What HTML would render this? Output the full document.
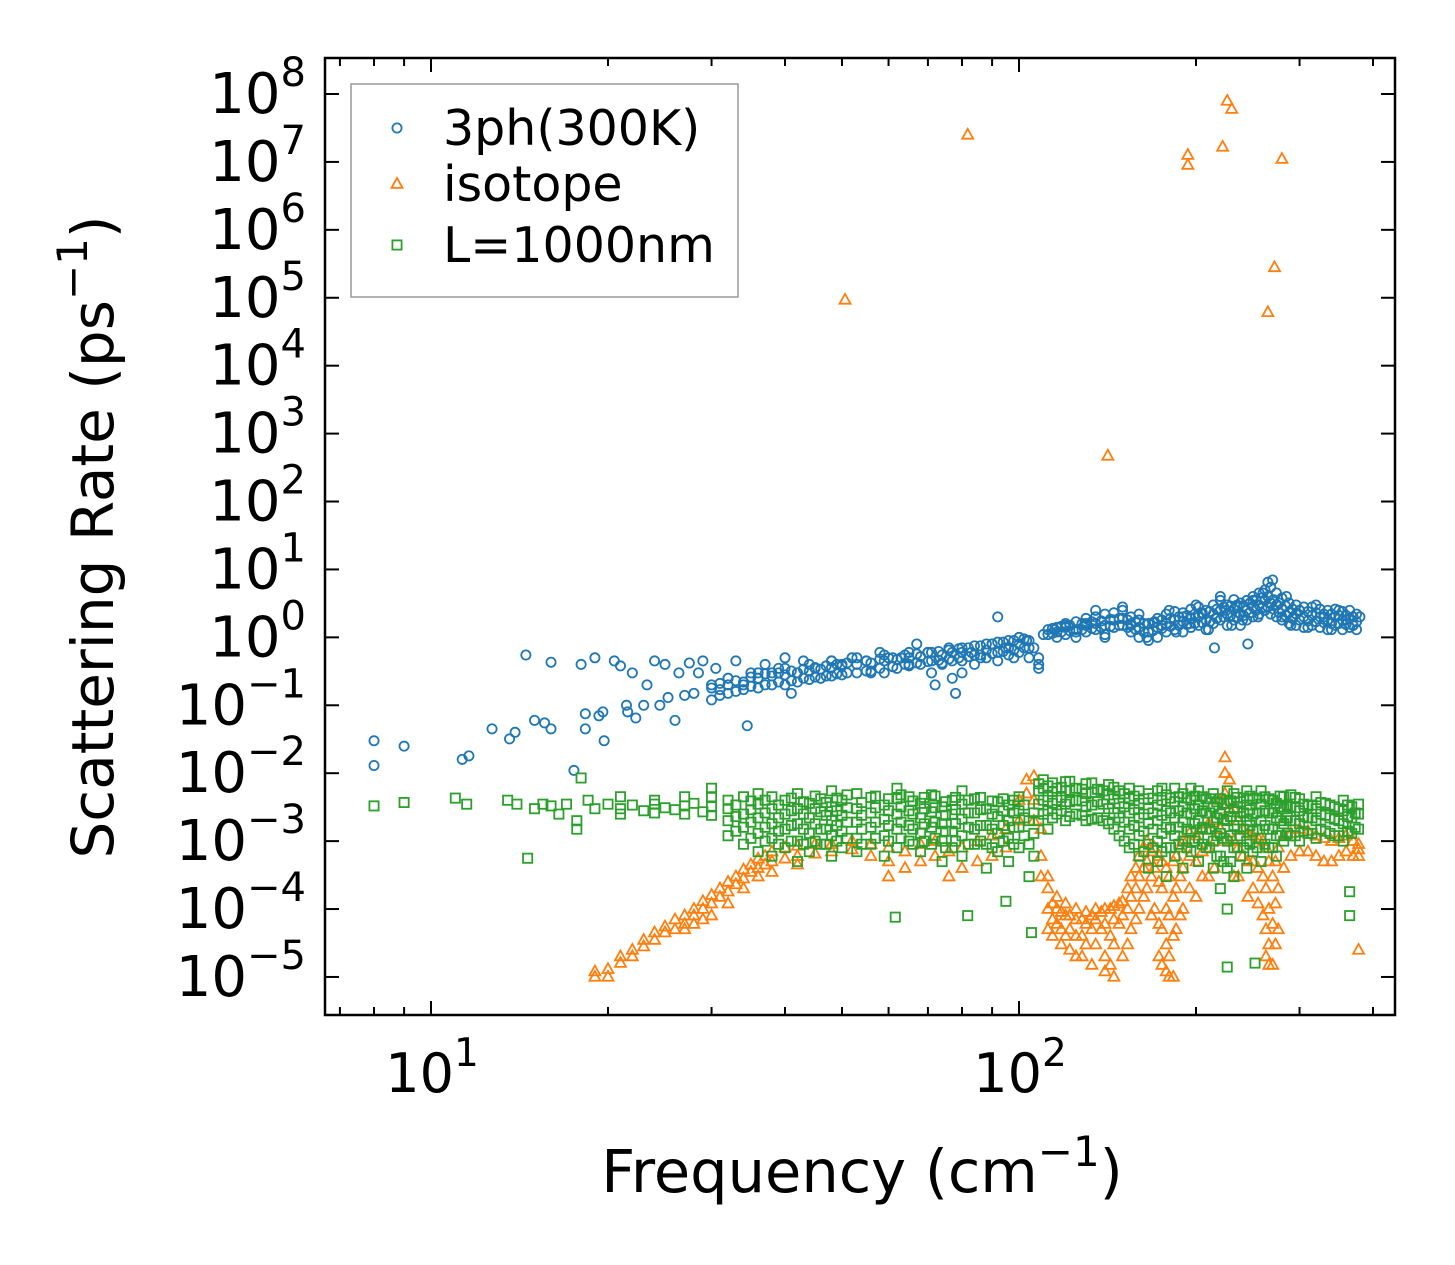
<!DOCTYPE html>
<html><head><meta charset="utf-8"><style>
html,body{margin:0;padding:0;background:#fff}
svg{display:block}
text{font-family:"DejaVu Sans","Liberation Sans",sans-serif;fill:#000}
</style></head><body>
<svg id="chart" width="1455" height="1265" viewBox="0 0 1455 1265">
<g id="marks"></g>
<g id="axes"></g>
</svg>
<script>
const xTickVals=[10,100];
const xTickExp=["1","2"];
const yTickExp=[8,7,6,5,4,3,2,1,0,-1,-2,-3,-4,-5];
const seriesNames=["3ph(300K)","isotope","L=1000nm"];
const blueF=[8,8,9,11.3,11.6,12.7,13.6,13.9,14.5,15,15.6,16,16,17.5,18,18.3,18.3,19,19.3,19.6,19.7,20.5,21,21.6,21.5,22,22.3,23,23.3,24,24.5,25,25.3,26,26.4,27,27.5,28,28.5,29,30,30.5,31,32,33,34,34.5,35,36,37,38,39,40,41,42,43,45,46,48,50,52,55,56,58,60,63,65,67,70,72,74,76,78,80,83,86,90,92,95,98,100,103,106,108,110,115,120,125,130,135,140,145,150,155,160,165,170,175,180,185,190,195,200,205,210,215,220,225,230,235,240,245,250,255,260,265,270,275,280,285,290,300,310,320,330,340,350,360,370,380];
const blueR=[0.03,0.013,0.025,0.016,0.018,0.045,0.032,0.04,0.55,0.06,0.055,0.045,0.43,0.011,0.4,0.075,0.045,0.5,0.07,0.08,0.03,0.45,0.38,0.08,0.1,0.3,0.065,0.1,0.2,0.45,0.1,0.4,0.13,0.06,0.3,0.14,0.42,0.15,0.3,0.45,0.2,0.35,0.17,0.25,0.45,0.2,0.05,0.3,0.25,0.4,0.3,0.35,0.5,0.15,0.3,0.45,0.35,0.25,0.45,0.4,0.5,0.45,0.3,0.6,0.5,0.5,0.4,0.8,0.6,0.2,0.4,0.7,0.15,0.3,0.6,0.5,0.8,2,0.7,0.5,1,0.9,0.7,0.4,1.1,1.3,1.5,1.2,1.6,2.5,1,1.8,2.8,1.5,2.2,1,1.7,1.5,2.5,1.2,2,1.6,3,2.2,1.3,0.7,4,2.5,1.5,3,1.8,0.8,3.5,2,4.5,6.5,7,3,2,4,1.5,2.5,1.4,3,2,1.3,2.5,1.8,1.5,2];
const blueBand=[[30,[0.12,0.18]],[32,[0.15,0.2,0.25]],[34,[0.17,0.22]],[36,[0.18,0.25,0.3]],[38,[0.2,0.27]],[40,[0.2,0.28,0.35]],[42,[0.22,0.3]],[44,[0.24,0.32,0.4]],[46,[0.25,0.34]],[48,[0.27,0.36,0.45]],[50,[0.28,0.38]],[53,[0.3,0.4,0.5]],[56,[0.32,0.42]],[59,[0.3,0.45,0.55]],[62,[0.35,0.47]],[65,[0.38,0.5,0.6]],[68,[0.4,0.52]],[71,[0.3,0.45,0.6]],[74,[0.42,0.55]],[77,[0.25,0.45,0.6]],[80,[0.45,0.6,0.7]],[84,[0.4,0.55,0.75]],[88,[0.5,0.65,0.8]],[92,[0.45,0.6,0.85]],[96,[0.55,0.7,0.9]],[100,[0.6,0.8,1]],[104,[0.5,0.7,0.9]],[108,[0.35,0.5]],[112,[1.1,1.3]],[116,[1,1.2,1.4]],[120,[1.1,1.4,1.6]],[125,[1,1.3,1.7]],[130,[1.2,1.5,1.9]],[135,[1.3,1.6,2]],[140,[1.1,1.5,2.2]],[145,[1.4,1.8,2.3]],[150,[1.5,1.9,2.5]],[155,[1.2,1.6,2]],[160,[1,1.4,1.8]],[166,[0.9,1.2,1.6]],[172,[1,1.4,1.9]],[178,[1.2,1.6,2.2]],[184,[1.3,1.8,2.4]],[190,[1.2,1.7,2.3]],[196,[1.4,1.9,2.6]],[202,[1.5,2,2.8]],[208,[1.3,1.8,2.5]],[214,[1.6,2.2,3]],[220,[1.8,2.5,3.5]],[226,[1.5,2.2,3]],[232,[1.8,2.6,3.6]],[238,[1.5,2.2,3.2]],[244,[1.8,2.5,3.5]],[250,[2,2.8,4]],[256,[2.2,3,4.5]],[262,[2.5,3.5,5]],[268,[2.2,3.2,5.5]],[274,[2,3,4.5]],[280,[1.8,2.6,3.8]],[288,[1.6,2.3,3.2]],[296,[1.5,2.2,3]],[305,[1.4,2,2.8]],[315,[1.5,2.1,2.8]],[325,[1.4,2,2.6]],[335,[1.3,1.8,2.5]],[345,[1.5,2,2.6]],[355,[1.3,1.8,2.4]],[365,[1.4,1.9,2.5]],[375,[1.3,1.7,2.2]]];
const blueBand2=[[31,[0.14,0.21]],[33,[0.16,0.23]],[35,[0.19,0.26]],[37,[0.2,0.29]],[39,[0.22,0.3]],[41,[0.23,0.32]],[43,[0.25,0.34]],[45,[0.26,0.36]],[47,[0.27,0.38]],[49,[0.29,0.4]],[51,[0.3,0.42]],[55,[0.32,0.45]],[58,[0.35,0.48]],[61,[0.37,0.5]],[64,[0.4,0.55]],[67,[0.42,0.57]],[70,[0.44,0.6]],[73,[0.46,0.62]],[76,[0.48,0.65]],[79,[0.5,0.68]],[82,[0.52,0.7]],[86,[0.55,0.75]],[90,[0.58,0.8]],[94,[0.62,0.85]],[98,[0.65,0.9]],[102,[0.7,0.95]],[114,[1.15,1.35]],[118,[1.2,1.45]],[122,[1.25,1.5]],[128,[1.3,1.6]],[133,[1.35,1.7]],[138,[1.4,1.75]],[143,[1.45,1.85]],[148,[1.5,1.9]],[153,[1.4,1.8]],[158,[1.3,1.7]],[163,[1.2,1.6]],[169,[1.25,1.65]],[175,[1.35,1.8]],[181,[1.45,1.9]],[187,[1.5,2]],[193,[1.55,2.1]],[199,[1.6,2.2]],[205,[1.65,2.3]],[211,[1.7,2.4]],[217,[1.9,2.6]],[223,[2,2.8]],[229,[2.1,2.9]],[235,[2,2.8]],[241,[2.1,2.9]],[247,[2.3,3.2]],[253,[2.5,3.5]],[259,[2.7,3.8]],[265,[2.8,4]],[271,[2.6,3.6]],[277,[2.3,3.2]],[284,[2.1,2.9]],[292,[1.9,2.6]],[300,[1.8,2.5]],[310,[1.75,2.4]],[320,[1.7,2.3]],[330,[1.65,2.2]],[340,[1.6,2.2]],[350,[1.6,2.1]],[360,[1.55,2.1]],[370,[1.5,2]]];
const orangeOutF=[50.6,81.8,141.6,193.7,193.7,222,226,230,265,272,280];
const orangeOutR=[9.3e4,2.5e7,470,1.26e7,9e6,1.66e7,7.9e7,6e7,6.1e4,2.8e5,1.1e7];
const orangeBand=[[19,[1e-5,1.2e-5]],[20,[1.3e-5,1e-5]],[21,[1.6e-5,2e-5]],[22,[2e-5,2.5e-5]],[23,[2.8e-5,3.5e-5]],[24,[3.5e-5,4.5e-5]],[25,[4.5e-5,5.5e-5]],[26,[5e-5,7e-5]],[27,[6e-5,8e-5,5e-5]],[28,[8e-5,1e-4,6e-5]],[29,[1e-4,1.3e-4,7e-5]],[30,[1.2e-4,1.6e-4,8e-5]],[31,[1.5e-4,2e-4]],[32,[1.8e-4,2.5e-4,1.2e-4]],[33,[2.3e-4,3e-4]],[34,[2.8e-4,3.8e-4,2e-4]],[35,[3.5e-4,4.5e-4]],[36,[4e-4,5.5e-4,3e-4]],[37,[4.5e-4,6e-4]],[38,[5e-4,7e-4,3.5e-4]],[40,[5.5e-4,8e-4]],[42,[6e-4,8.5e-4,4.5e-4]],[45,[6.5e-4,9e-4]],[48,[7e-4,9e-4]],[52,[7.5e-4,1e-3]],[56,[6e-4,9e-4]],[60,[5e-4,8e-4,3e-4]],[64,[4e-4,7e-4]],[68,[5e-4,9e-4]],[72,[6e-4,1e-3]],[76,[3e-4,7e-4]],[80,[4e-4,8e-4]],[85,[5e-4,1e-3]],[90,[6e-4,1.2e-3]],[95,[8e-4,1.5e-3]],[100,[2e-3,4e-3]],[103,[5e-3,8e-3]],[106,[4e-3,9e-3,2e-3]],[109,[1.5e-3,6e-4,3e-4]],[112,[3e-4,2e-4,1e-4,5e-5]],[116,[1.5e-4,1e-4,6e-5]],[120,[1.2e-4,8e-5,4e-5]],[125,[1e-4,7e-5,4e-5,2e-5]],[130,[9e-5,6e-5,3e-5]],[135,[1e-4,7e-5,3e-5]],[140,[1e-4,6e-5,2e-5,1.2e-5]],[145,[1.1e-4,7e-5,3e-5,1e-5]],[150,[1.3e-4,8e-5,2e-5]],[155,[3e-4,1.5e-4,5e-5]],[160,[6e-4,3e-4,1e-4]],[165,[1e-3,5e-4,2e-4]],[170,[8e-4,4e-4,1e-4]],[175,[5e-4,2e-4,5e-5,1.5e-5]],[180,[3e-4,8e-5,2e-5,1e-5]],[185,[6e-4,2e-4,5e-5]],[190,[1e-3,4e-4,1e-4]],[195,[1.3e-3,6e-4,2e-4]],[205,[1.5e-3,7e-4,3e-4]],[215,[2e-3,1e-3,4e-4]],[220,[4e-3,1.5e-3]],[224,[1e-2,5e-3,2e-3,1.7e-2]],[228,[8e-3,3e-3,1e-3]],[232,[3e-3,1e-3,3e-4]],[240,[1.5e-3,6e-4]],[250,[1.2e-3,5e-4,2e-4]],[260,[1e-3,3e-4,8e-5]],[266,[5e-4,1e-4,3e-5,1.5e-5]],[270,[3e-4,6e-5,1.5e-5]],[276,[8e-4,2e-4,5e-5]],[282,[1.2e-3,4e-4]],[300,[1.5e-3,7e-4]],[320,[1.2e-3,6e-4]],[340,[1e-3,5e-4]],[360,[1.2e-3,7e-4]],[378,[9e-4,6e-4,7.5e-4,2.5e-5]]];
const orangeBand2=[[114,[1.2e-4,7e-5,4e-5]],[118,[9e-5,5e-5,3e-5]],[122,[8e-5,5e-5,2.5e-5]],[128,[7e-5,4e-5,2e-5]],[133,[8e-5,5e-5,1.5e-5]],[138,[9e-5,5e-5]],[143,[1e-4,4e-5,1.5e-5]],[148,[1.2e-4,6e-5]],[153,[2e-4,1e-4,3e-5]],[158,[4e-4,2e-4,7e-5]],[163,[8e-4,4e-4,1.5e-4]],[168,[7e-4,3e-4,8e-5]],[173,[6e-4,2.5e-4,6e-5,2e-5]],[178,[4e-4,1e-4,3e-5,1.2e-5]],[183,[5e-4,1.5e-4,4e-5,1e-5]],[188,[8e-4,3e-4,8e-5]],[200,[1.2e-3,5e-4,1.5e-4]],[210,[1.8e-3,8e-4,3e-4]],[236,[2e-3,8e-4,3e-4]],[245,[1.3e-3,5e-4,1.5e-4]],[255,[1.1e-3,4e-4,1.2e-4]],[263,[8e-4,2e-4,5e-5,2e-5]],[273,[5e-4,1.2e-4,3e-5]],[290,[1.3e-3,6e-4]],[310,[1.4e-3,7e-4]],[330,[1.1e-3,5e-4]],[350,[1.1e-3,6e-4]],[370,[1e-3,6e-4]]];
const greenOutF=[8,9,11,11.5,13.5,14,14.6,15,15.5,16,16.5,17,17.7,17.7,18,18.5,19,20,21,22,23,24,25,26,27,28,29,30,61.6,81.8,95,105,226,252,365,365];
const greenOutR=[3.3e-3,3.7e-3,4.3e-3,3.5e-3,4e-3,3.5e-3,5.6e-4,3e-3,3.5e-3,3.3e-3,2.5e-3,3.5e-3,1.5e-3,2e-3,8.5e-3,4e-3,3e-3,3.5e-3,3e-3,3.4e-3,2.8e-3,3.5e-3,3.1e-3,2.9e-3,3.3e-3,3.6e-3,2.7e-3,3.2e-3,7.6e-5,8e-5,1.3e-4,4.5e-5,1.4e-5,1.6e-5,8e-5,1.8e-4];
const greenBand=[[21,[2.5e-3,4.5e-3]],[24,[2.6e-3,4e-3]],[27,[2.5e-3,4.5e-3]],[30,[2.4e-3,4.5e-3,6e-3]],[32,[1.2e-3,2e-3,3e-3,4e-3]],[34,[9e-4,1.6e-3,2.5e-3,4.5e-3]],[36,[7e-4,1.3e-3,2.2e-3,3.5e-3,5e-3]],[38,[6e-4,1.1e-3,1.8e-3,3e-3,4.5e-3]],[40,[8e-4,1.5e-3,2.5e-3,4e-3]],[42,[5e-4,1e-3,1.8e-3,3e-3,5e-3]],[44,[7e-4,1.3e-3,2.2e-3,3.6e-3]],[46,[9e-4,1.5e-3,2.7e-3,4.2e-3]],[48,[6e-4,1.2e-3,2e-3,3.2e-3,5.5e-3]],[50,[8e-4,1.4e-3,2.4e-3,4e-3]],[53,[7e-4,1.1e-3,1.9e-3,3e-3,5e-3]],[56,[9e-4,1.6e-3,2.6e-3,4.4e-3]],[59,[6e-4,1.2e-3,2.1e-3,3.4e-3]],[62,[8e-4,1.5e-3,2.5e-3,4.2e-3,6e-3]],[65,[1e-3,1.7e-3,2.8e-3,4.5e-3]],[68,[7e-4,1.3e-3,2.2e-3,3.6e-3]],[71,[9e-4,1.6e-3,2.7e-3,4.8e-3]],[74,[5e-4,1e-3,1.8e-3,3.2e-3]],[77,[8e-4,1.4e-3,2.5e-3,4e-3]],[80,[6e-4,1.2e-3,2.1e-3,3.5e-3,5.5e-3]],[84,[9e-4,1.5e-3,2.6e-3,4.2e-3]],[88,[4e-4,9e-4,1.7e-3,3e-3]],[92,[7e-4,1.3e-3,2.3e-3,3.8e-3]],[96,[5e-4,1.1e-3,2e-3,3.4e-3]],[100,[8e-4,1.6e-3,2.8e-3,4.5e-3]],[104,[3e-4,9e-4,2e-3]],[108,[2e-3,3.5e-3,5.5e-3,7e-3]],[112,[1.5e-3,2.8e-3,4.5e-3,6.5e-3]],[116,[2.5e-3,4e-3,6e-3]],[120,[2e-3,3.5e-3,5.5e-3,7.5e-3]],[125,[2.5e-3,4e-3,6e-3]],[130,[2e-3,3.2e-3,5e-3,7e-3]],[136,[2.2e-3,3.8e-3,5.8e-3]],[142,[1.8e-3,3e-3,4.8e-3,6.8e-3]],[148,[1.2e-3,2.2e-3,3.6e-3,5.5e-3]],[154,[8e-4,1.5e-3,2.6e-3,4.2e-3,6e-3]],[160,[6e-4,1.2e-3,2.2e-3,3.6e-3,5.5e-3]],[166,[4e-4,9e-4,1.8e-3,3e-3,5e-3]],[172,[5e-4,1e-3,2e-3,3.4e-3,5.5e-3]],[178,[3e-4,8e-4,1.6e-3,2.8e-3,4.8e-3]],[184,[6e-4,1.2e-3,2.2e-3,3.8e-3,6e-3]],[190,[4e-4,1e-3,1.9e-3,3.2e-3,5e-3]],[196,[7e-4,1.4e-3,2.5e-3,4e-3,6e-3]],[202,[5e-4,1.1e-3,2e-3,3.4e-3,5.5e-3]],[208,[8e-4,1.5e-3,2.6e-3,4.2e-3]],[214,[4e-4,1e-3,1.9e-3,3.2e-3,5e-3]],[220,[2e-4,6e-4,1.3e-3,2.5e-3,4.2e-3]],[226,[1e-4,4e-4,1e-3,2e-3,3.6e-3,5.5e-3]],[232,[3e-4,8e-4,1.7e-3,3e-3,5e-3]],[238,[6e-4,1.2e-3,2.3e-3,3.8e-3]],[244,[4e-4,1e-3,2e-3,3.4e-3,5.5e-3]],[250,[7e-4,1.4e-3,2.5e-3,4.2e-3]],[258,[5e-4,1.1e-3,2e-3,3.5e-3,5.5e-3]],[266,[8e-4,1.5e-3,2.6e-3,4.2e-3]],[274,[6e-4,1.2e-3,2.2e-3,3.6e-3]],[282,[1e-3,1.8e-3,3e-3,4.5e-3]],[290,[1.2e-3,2e-3,3.2e-3,4.8e-3]],[300,[1e-3,1.8e-3,2.8e-3,4.2e-3]],[310,[1.3e-3,2.2e-3,3.3e-3]],[320,[1.1e-3,2e-3,3e-3,4.5e-3]],[332,[1.4e-3,2.4e-3,3.6e-3]],[344,[1.2e-3,2.1e-3,3.2e-3]],[356,[1e-3,1.8e-3,2.8e-3,4e-3]],[368,[1.3e-3,2.2e-3,3.2e-3]],[378,[1.5e-3,2.5e-3,3.5e-3]]];
const greenBand2=[[33,[1.4e-3,2.3e-3,3.4e-3]],[35,[1.1e-3,1.9e-3,2.9e-3,3.9e-3]],[37,[1e-3,1.6e-3,2.6e-3,4e-3]],[39,[9e-4,1.4e-3,2.2e-3,3.4e-3]],[41,[1e-3,1.7e-3,2.8e-3,4.3e-3]],[43,[9e-4,1.5e-3,2.5e-3,3.8e-3]],[45,[1e-3,1.8e-3,3e-3,4.6e-3]],[47,[9e-4,1.5e-3,2.4e-3,3.7e-3]],[49,[1e-3,1.7e-3,2.8e-3,4.3e-3]],[51,[1.1e-3,1.9e-3,3.1e-3,4.8e-3]],[54,[9e-4,1.5e-3,2.4e-3,3.7e-3]],[57,[1.1e-3,1.9e-3,3.1e-3,4.6e-3]],[60,[1e-3,1.7e-3,2.8e-3,4.2e-3]],[63,[1.1e-3,1.9e-3,3.2e-3,4.8e-3]],[66,[9e-4,1.5e-3,2.5e-3,3.9e-3]],[69,[1e-3,1.8e-3,3e-3,4.4e-3]],[72,[1.1e-3,1.9e-3,3.1e-3,4.6e-3]],[75,[8e-4,1.4e-3,2.4e-3,3.8e-3]],[78,[1e-3,1.8e-3,2.9e-3,4.4e-3]],[82,[9e-4,1.6e-3,2.6e-3,4e-3]],[86,[1e-3,1.7e-3,2.9e-3,4.4e-3]],[90,[8e-4,1.5e-3,2.5e-3,3.9e-3]],[94,[1e-3,1.7e-3,2.8e-3,4.2e-3]],[98,[9e-4,1.6e-3,2.6e-3,4e-3]],[102,[1.2e-3,2.2e-3,3.4e-3]],[106,[6e-4,1.3e-3,2.6e-3]],[110,[2.5e-3,4e-3,6e-3,8e-3]],[114,[2.2e-3,3.6e-3,5.4e-3,7.2e-3]],[118,[2.8e-3,4.4e-3,6.2e-3]],[122,[2.3e-3,3.8e-3,5.6e-3,7.6e-3]],[128,[2.4e-3,3.9e-3,5.8e-3]],[133,[2.1e-3,3.4e-3,5.2e-3,7.2e-3]],[139,[2e-3,3.5e-3,5.5e-3]],[145,[1.5e-3,2.6e-3,4.2e-3,6.2e-3]],[151,[1e-3,1.9e-3,3.2e-3,5e-3]],[157,[9e-4,1.7e-3,2.9e-3,4.6e-3]],[163,[7e-4,1.4e-3,2.5e-3,4.2e-3]],[169,[8e-4,1.5e-3,2.6e-3,4.3e-3]],[175,[7e-4,1.3e-3,2.4e-3,4e-3,6e-3]],[181,[8e-4,1.5e-3,2.6e-3,4.3e-3]],[187,[9e-4,1.6e-3,2.8e-3,4.5e-3]],[193,[8e-4,1.5e-3,2.6e-3,4.3e-3]],[199,[1e-3,1.8e-3,3e-3,4.6e-3]],[205,[9e-4,1.6e-3,2.8e-3,4.5e-3]],[211,[8e-4,1.5e-3,2.6e-3,4.2e-3]],[217,[6e-4,1.2e-3,2.2e-3,3.8e-3]],[223,[5e-4,1.1e-3,2.1e-3,3.6e-3]],[229,[5e-4,1.2e-3,2.3e-3,3.9e-3]],[235,[8e-4,1.5e-3,2.7e-3,4.4e-3]],[241,[8e-4,1.5e-3,2.6e-3,4.3e-3]],[247,[9e-4,1.7e-3,2.9e-3,4.6e-3]],[254,[8e-4,1.5e-3,2.6e-3,4.3e-3]],[262,[9e-4,1.7e-3,2.8e-3,4.5e-3]],[270,[8e-4,1.5e-3,2.6e-3,4e-3]],[278,[1.2e-3,2e-3,3.2e-3,4.6e-3]],[286,[1.3e-3,2.2e-3,3.4e-3]],[295,[1.2e-3,2e-3,3.1e-3,4.4e-3]],[305,[1.4e-3,2.3e-3,3.5e-3]],[315,[1.3e-3,2.2e-3,3.4e-3]],[326,[1.5e-3,2.5e-3,3.7e-3]],[338,[1.3e-3,2.2e-3,3.4e-3]],[350,[1.2e-3,2e-3,3e-3]],[362,[1.4e-3,2.3e-3,3.4e-3]],[373,[1.6e-3,2.6e-3]]];
const X0=431,DX=588,Y0=94,DY=67.92;
const X=f=>X0+(Math.log10(f)-1)*DX;
const Y=r=>Y0+(8-Math.log10(r))*DY;
const NS="http://www.w3.org/2000/svg";
const marks=document.getElementById('marks'),axes=document.getElementById('axes');
function mk(tag,at,parent){const e=document.createElementNS(NS,tag);for(const k in at)e.setAttribute(k,at[k]);parent.appendChild(e);return e;}
const C=["#1f77b4","#ff7f0e","#2ca02c"];
function marker(type,cx,cy,parent){
  if(type===0)return mk('circle',{cx:cx,cy:cy,r:4.6,fill:'none',stroke:C[0],'stroke-width':1.8},parent);
  if(type===1)return mk('path',{d:`M${cx},${cy-6}L${cx+5.5},${cy+3.8}L${cx-5.5},${cy+3.8}Z`,fill:'none',stroke:C[1],'stroke-width':1.8},parent);
  return mk('rect',{x:cx-4.6,y:cy-4.6,width:9.2,height:9.2,fill:'none',stroke:C[2],'stroke-width':1.8},parent);
}
function pt(type,f,r,g,name){const e=marker(type,X(f),Y(r),g);

}
const gB=mk('g',{},marks);
const gO=mk('g',{},marks);
const gG=mk('g',{},marks);
for(let i=0;i<Math.min(blueF.length,blueR.length);i++)pt(0,blueF[i],blueR[i],gB,'point-3ph');
blueBand.concat(blueBand2).forEach(([f,vs])=>vs.forEach(v=>pt(0,f,v,gB,'point-3ph')));
for(let i=0;i<orangeOutF.length;i++)pt(1,orangeOutF[i],orangeOutR[i],gO,'point-isotope');
orangeBand.concat(orangeBand2).forEach(([f,vs])=>vs.forEach(v=>pt(1,f,v,gO,'point-isotope')));
for(let i=0;i<greenOutF.length;i++)pt(2,greenOutF[i],greenOutR[i],gG,'point-boundary');
greenBand.concat(greenBand2).forEach(([f,vs])=>vs.forEach(v=>pt(2,f,v,gG,'point-boundary')));
const L=325,R=1395,T=58,B=1015;
const fr=mk('rect',{x:L,y:T,width:R-L,height:B-T,fill:'none',stroke:'#000','stroke-width':2.5},axes);


[1,10,100].forEach(base=>{for(let m=1;m<=9;m++){const x=X(m*base);if(x<L||x>R)continue;const len=m===1?14:8;
mk('line',{x1:x,y1:B,x2:x,y2:B-len,stroke:'#000','stroke-width':2},axes);
mk('line',{x1:x,y1:T,x2:x,y2:T+len,stroke:'#000','stroke-width':2},axes);}});
xTickVals.forEach((v,i)=>{const t=mk('text',{x:X(v)+1,y:1092,'font-size':54,'text-anchor':'middle'},axes);


t.innerHTML='10<tspan dy="-26" font-size="39">'+xTickExp[i]+'</tspan>';});
yTickExp.forEach(p=>{const y=Y(Math.pow(10,p));
mk('line',{x1:L,y1:y,x2:L+14,y2:y,stroke:'#000','stroke-width':2},axes);
mk('line',{x1:R,y1:y,x2:R-14,y2:y,stroke:'#000','stroke-width':2},axes);
const t=mk('text',{x:306,y:y+19,'font-size':56,'text-anchor':'end'},axes);


const e=p<0?'\u2212'+(-p):String(p);
t.innerHTML='10<tspan dy="-27" font-size="40">'+e+'</tspan>';});
const xl=mk('text',{x:862,y:1192,'font-size':59,'text-anchor':'middle'},axes);


xl.innerHTML='Frequency (cm<tspan dy="-26" font-size="42">\u22121</tspan><tspan dy="26">)</tspan>';
const yl=mk('text',{x:0,y:0,'font-size':58,'text-anchor':'middle',transform:'translate(113,537) rotate(-90)'},axes);


yl.innerHTML='Scattering Rate (ps<tspan dy="-26" font-size="42">\u22121</tspan><tspan dy="26">)</tspan>';
const lg=mk('g',{},axes);


mk('rect',{x:351,y:84,width:387,height:213,fill:'#fff','fill-opacity':0.8,stroke:'#999','stroke-width':1.5},lg);
[133,189,250].forEach((yy,i)=>{const g=mk('g',{},lg);


marker(i,397,yy-5,g);
const t=mk('text',{x:443,y:yy+12,'font-size':49},g);t.textContent=seriesNames[i];});
</script>
</body></html>
